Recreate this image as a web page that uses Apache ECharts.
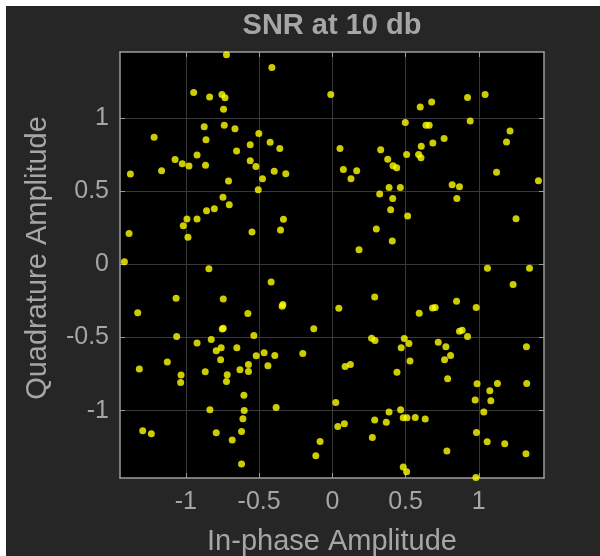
<!DOCTYPE html>
<html>
<head>
<meta charset="utf-8">
<script src="https://cdn.jsdelivr.net/npm/echarts@6/dist/echarts.min.js"></script>
<style>
  html, body { margin: 0; padding: 0; background: #ffffff; }
  #bg { position: absolute; left: 6px; top: 6px; width: 594px; height: 550px; background: #262626; }
  #chart { position: absolute; left: 0; top: 0; width: 600px; height: 556px; }
</style>
</head>
<body>
<div id="bg"></div>
<div id="chart"></div>
<script>
// received symbols
const inPhase = [
  -0.723, -0.413, -0.011, -0.947, -0.838, -0.754, -0.733, -0.743, -0.875, -0.738,
  -0.665, -0.502, -1.217, -0.863, -0.561, -0.425, -0.359, -0.654, -0.924, -1.074,
  -1.025, -0.979, -0.866, -0.561, -0.522, -1.379, -1.166, -0.397, -0.318, -0.477,
  -0.709, -0.506, -0.747, -0.704, -0.806, -0.859, -0.993, -0.924, -1.018, -0.334,
  -1.388, -0.986, -0.549, -0.354, -1.420, -0.843,
  0.600, 0.678, 0.923, 1.043, 0.498, 0.639, 0.661, 0.941, 1.213, 1.189,
  0.607, 0.686, 0.763, 0.052, 0.330, 0.507, 0.589, 0.605, 0.378, 0.414,
  0.439, 0.075, 0.166, 0.127, 1.121, 1.407, 0.818, 0.868, 0.850, 0.387,
  0.464, 0.323, 0.412, 0.398, 0.514, 1.254, 0.300, 0.409, 0.182, 1.059, 1.346,
  -0.418, -1.067, -0.745, -1.329, -0.577, -0.338, -0.343, -0.752, -0.745, -0.127,
  -1.063, -0.536, -0.827, -0.924, -0.759, -0.793, -0.652, -0.466, -0.520, -0.393,
  -0.202, -0.763, -1.127, -1.318, -0.868, -0.573, -0.440, -0.631, -0.573, -1.033,
  -1.036, -0.718, -0.723, -0.604, -0.836, -0.602, -0.384, -0.611, -1.295, -1.236,
  -0.793, -0.620, -0.684, -0.084, -0.113, -0.620,
  1.234, 0.289, 0.044, 0.848, 0.982, 0.593, 0.684, 0.702, 0.268, 0.291,
  0.491, 0.523, 0.470, 0.868, 0.886, 0.923, 0.723, 0.775, 0.807, 0.766,
  1.325, 0.530, 0.087, 0.123, 0.441, 0.787, 0.988, 1.127, 1.327, 1.075,
  0.975, 1.082, 1.034, 0.023, 0.387, 0.466, 0.484, 0.509, 0.566, 0.634,
  0.289, 0.368, 0.037, 0.082, 0.273, 0.984, 1.057, 1.177, 1.322, 0.782,
  0.484, 0.507, 0.980
];
const quadrature = [
  1.432, 1.344, 1.160, 1.173, 1.143, 1.160, 1.137, 1.059, 0.939, 0.950,
  0.925, 0.894, 0.868, 0.850, 0.816, 0.834, 0.791, 0.773, 0.746, 0.716,
  0.686, 0.671, 0.677, 0.707, 0.668, 0.616, 0.639, 0.636, 0.618, 0.584,
  0.568, 0.509, 0.457, 0.407, 0.379, 0.366, 0.309, 0.309, 0.263, 0.307,
  0.211, 0.184, 0.220, 0.234, 0.018, -0.030,
  1.075, 1.109, 1.139, 1.160, 0.969, 0.950, 0.950, 0.978, 0.911, 0.836,
  0.807, 0.829, 0.859, 0.791, 0.782, 0.750, 0.750, 0.727, 0.718, 0.673,
  0.659, 0.648, 0.639, 0.584, 0.628, 0.570, 0.543, 0.529, 0.450, 0.525,
  0.525, 0.480, 0.450, 0.372, 0.329, 0.311, 0.241, 0.159, 0.100, -0.027, -0.027,
  -0.121, -0.232, -0.237, -0.332, -0.337, -0.275, -0.287, -0.443, -0.437, -0.441,
  -0.494, -0.487, -0.514, -0.537, -0.571, -0.591, -0.571, -0.605, -0.625, -0.623,
  -0.610, -0.653, -0.668, -0.716, -0.735, -0.685, -0.694, -0.721, -0.733, -0.757,
  -0.808, -0.755, -0.801, -0.894, -0.994, -0.999, -0.978, -1.055, -1.137, -1.158,
  -1.151, -1.142, -1.201, -1.210, -1.308, -1.364,
  -0.139, -0.223, -0.300, -0.252, -0.296, -0.334, -0.298, -0.296, -0.505, -0.521,
  -0.507, -0.541, -0.571, -0.457, -0.450, -0.494, -0.532, -0.564, -0.623, -0.653,
  -0.564, -0.660, -0.698, -0.685, -0.737, -0.782, -0.817, -0.815, -0.815, -0.864,
  -0.928, -0.932, -1.010, -0.944, -1.010, -0.994, -1.048, -1.048, -1.046, -1.057,
  -1.064, -1.080, -1.108, -1.089, -1.183, -1.149, -1.212, -1.226, -1.294, -1.276,
  -1.385, -1.417, -1.456
];
const xTicks = [-1, -0.5, 0, 0.5, 1];
const yTicks = [-1, -0.5, 0, 0.5, 1];
const xRange = [-1.45, 1.445];
const yRange = [-1.46, 1.45];

const textGray = '#a6a6a6';
const boxGray = '#9c9c9c';
const gridGray = '#383838';
const fontFamily = '"Liberation Sans", Arial, sans-serif';

const points = inPhase.map((x, i) => [x, quadrature[i]]);

const chart = echarts.init(document.getElementById('chart'));

function makeAxis(pos, range, ticks, withLabels, name) {
  return {
    type: 'value',
    position: pos,
    min: range[0],
    max: range[1],
    name: name,
    nameLocation: 'middle',
    nameGap: (pos === 'left') ? 68 : 49,
    nameTextStyle: {
      color: textGray,
      fontSize: 29,
      fontFamily: fontFamily,
      padding: (pos === 'left') ? [0, 0, 0, 14] : 0
    },
    axisLine: { show: true, onZero: false, lineStyle: { color: boxGray, width: 1.5 } },
    axisTick: { show: true, inside: true, length: 5, customValues: ticks, lineStyle: { color: boxGray } },
    axisLabel: {
      show: withLabels,
      customValues: ticks,
      color: textGray,
      fontSize: 25,
      fontFamily: fontFamily,
      margin: (pos === 'left') ? 11 : 12
    },
    splitLine: { show: withLabels, lineStyle: { color: gridGray, width: 1 } }
  };
}

chart.setOption({
  backgroundColor: 'transparent',
  animation: false,
  title: {
    text: 'SNR at 10 db',
    left: 332,
    top: 11,
    padding: 0,
    textAlign: 'center',
    textStyle: { color: textGray, fontSize: 29, fontWeight: 'bold', fontFamily: fontFamily }
  },
  grid: {
    left: 120, right: 56, top: 52, bottom: 78,
    containLabel: false,
    outerBoundsMode: 'none',
    backgroundColor: '#000000', show: true, borderWidth: 0
  },
  xAxis: [
    makeAxis('bottom', xRange, xTicks, true, 'In-phase Amplitude'),
    makeAxis('top', xRange, xTicks, false, '')
  ],
  yAxis: [
    makeAxis('left', yRange, yTicks, true, 'Quadrature Amplitude'),
    makeAxis('right', yRange, yTicks, false, '')
  ],
  series: [{
    type: 'scatter',
    xAxisIndex: 0,
    yAxisIndex: 0,
    symbol: 'circle',
    symbolSize: 7,
    itemStyle: { color: '#ffff00' },
    data: points
  }]
});
</script>
</body>
</html>
